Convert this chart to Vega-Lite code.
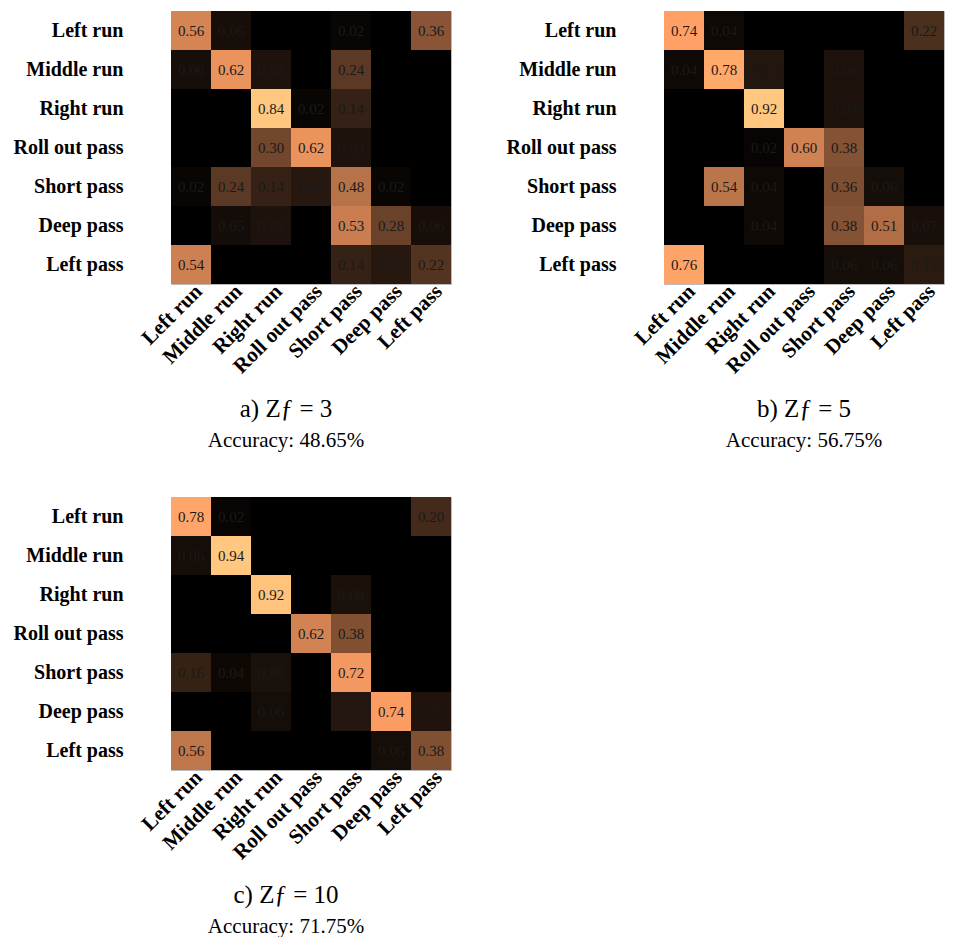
{
  "$schema": "https://vega.github.io/schema/vega-lite/v6.json",
  "background": "white",
  "padding": {"left": 12, "top": 10, "right": 5, "bottom": 5},
  "datasets": {
    "a": [
      {"actual": "Left run", "Left run": 0.56, "Middle run": 0.06, "Right run": 0, "Roll out pass": 0, "Short pass": 0.02, "Deep pass": 0, "Left pass": 0.36},
      {"actual": "Middle run", "Left run": 0.06, "Middle run": 0.62, "Right run": 0.08, "Roll out pass": 0, "Short pass": 0.24, "Deep pass": 0, "Left pass": 0},
      {"actual": "Right run", "Left run": 0, "Middle run": 0, "Right run": 0.84, "Roll out pass": 0.02, "Short pass": 0.14, "Deep pass": 0, "Left pass": 0},
      {"actual": "Roll out pass", "Left run": 0, "Middle run": 0, "Right run": 0.30, "Roll out pass": 0.62, "Short pass": 0.08, "Deep pass": 0, "Left pass": 0},
      {"actual": "Short pass", "Left run": 0.02, "Middle run": 0.24, "Right run": 0.14, "Roll out pass": 0.10, "Short pass": 0.48, "Deep pass": 0.02, "Left pass": 0},
      {"actual": "Deep pass", "Left run": 0, "Middle run": 0.05, "Right run": 0.08, "Roll out pass": 0, "Short pass": 0.53, "Deep pass": 0.28, "Left pass": 0.06},
      {"actual": "Left pass", "Left run": 0.54, "Middle run": 0, "Right run": 0, "Roll out pass": 0, "Short pass": 0.14, "Deep pass": 0.10, "Left pass": 0.22}
    ],
    "b": [
      {"actual": "Left run", "Left run": 0.74, "Middle run": 0.04, "Right run": 0, "Roll out pass": 0, "Short pass": 0, "Deep pass": 0, "Left pass": 0.22},
      {"actual": "Middle run", "Left run": 0.04, "Middle run": 0.78, "Right run": 0.10, "Roll out pass": 0, "Short pass": 0.08, "Deep pass": 0, "Left pass": 0},
      {"actual": "Right run", "Left run": 0, "Middle run": 0, "Right run": 0.92, "Roll out pass": 0, "Short pass": 0.08, "Deep pass": 0, "Left pass": 0},
      {"actual": "Roll out pass", "Left run": 0, "Middle run": 0, "Right run": 0.02, "Roll out pass": 0.60, "Short pass": 0.38, "Deep pass": 0, "Left pass": 0},
      {"actual": "Short pass", "Left run": 0, "Middle run": 0.54, "Right run": 0.04, "Roll out pass": 0, "Short pass": 0.36, "Deep pass": 0.06, "Left pass": 0},
      {"actual": "Deep pass", "Left run": 0, "Middle run": 0, "Right run": 0.04, "Roll out pass": 0, "Short pass": 0.38, "Deep pass": 0.51, "Left pass": 0.07},
      {"actual": "Left pass", "Left run": 0.76, "Middle run": 0, "Right run": 0, "Roll out pass": 0, "Short pass": 0.06, "Deep pass": 0.06, "Left pass": 0.12}
    ],
    "c": [
      {"actual": "Left run", "Left run": 0.78, "Middle run": 0.02, "Right run": 0, "Roll out pass": 0, "Short pass": 0, "Deep pass": 0, "Left pass": 0.20},
      {"actual": "Middle run", "Left run": 0.06, "Middle run": 0.94, "Right run": 0, "Roll out pass": 0, "Short pass": 0, "Deep pass": 0, "Left pass": 0},
      {"actual": "Right run", "Left run": 0, "Middle run": 0, "Right run": 0.92, "Roll out pass": 0, "Short pass": 0.08, "Deep pass": 0, "Left pass": 0},
      {"actual": "Roll out pass", "Left run": 0, "Middle run": 0, "Right run": 0, "Roll out pass": 0.62, "Short pass": 0.38, "Deep pass": 0, "Left pass": 0},
      {"actual": "Short pass", "Left run": 0.16, "Middle run": 0.04, "Right run": 0.08, "Roll out pass": 0, "Short pass": 0.72, "Deep pass": 0, "Left pass": 0},
      {"actual": "Deep pass", "Left run": 0, "Middle run": 0, "Right run": 0.06, "Roll out pass": 0, "Short pass": 0.11, "Deep pass": 0.74, "Left pass": 0.09},
      {"actual": "Left pass", "Left run": 0.56, "Middle run": 0, "Right run": 0, "Roll out pass": 0, "Short pass": 0, "Deep pass": 0.06, "Left pass": 0.38}
    ]
  },
  "spacing": 44,
  "resolve": {"scale": {"color": "independent"}},
  "vconcat": [
    {
      "spacing": 53,
      "resolve": {"scale": {"color": "independent"}},
      "hconcat": [
        {
          "data": {"name": "a"},
          "width": 280, "height": 273,
          "title": {"text": "a) Zƒ = 3", "subtitle": "Accuracy: 48.65%", "dx": -25},
          "transform": [{"fold": ["Left run", "Middle run", "Right run", "Roll out pass", "Short pass", "Deep pass", "Left pass"], "as": ["pred", "v"]}],
          "encoding": {
            "x": {"field": "pred", "type": "nominal", "sort": ["Left run", "Middle run", "Right run", "Roll out pass", "Short pass", "Deep pass", "Left pass"], "title": null},
            "y": {"field": "actual", "type": "nominal", "sort": ["Left run", "Middle run", "Right run", "Roll out pass", "Short pass", "Deep pass", "Left pass"], "title": null}
          },
          "layer": [
            {"mark": {"type": "rect"}, "encoding": {"color": {"field": "v", "type": "quantitative", "scale": {"domain": [0, 0.672, 0.84], "range": ["#000000", "#ff9f65", "#ffc77f"], "interpolate": "rgb"}, "legend": null}}},
            {"transform": [{"filter": "datum.v > 0"}], "mark": {"type": "text", "font": "Liberation Serif", "fontSize": 15, "color": "#1a1a1a"}, "encoding": {"text": {"field": "v", "type": "quantitative", "format": ".2f"}}}
          ]
        },
        {
          "data": {"name": "b"},
          "width": 280, "height": 273,
          "title": {"text": "b) Zƒ = 5", "subtitle": "Accuracy: 56.75%"},
          "transform": [{"fold": ["Left run", "Middle run", "Right run", "Roll out pass", "Short pass", "Deep pass", "Left pass"], "as": ["pred", "v"]}],
          "encoding": {
            "x": {"field": "pred", "type": "nominal", "sort": ["Left run", "Middle run", "Right run", "Roll out pass", "Short pass", "Deep pass", "Left pass"], "title": null},
            "y": {"field": "actual", "type": "nominal", "sort": ["Left run", "Middle run", "Right run", "Roll out pass", "Short pass", "Deep pass", "Left pass"], "title": null}
          },
          "layer": [
            {"mark": {"type": "rect"}, "encoding": {"color": {"field": "v", "type": "quantitative", "scale": {"domain": [0, 0.736, 0.92], "range": ["#000000", "#ff9f65", "#ffc77f"], "interpolate": "rgb"}, "legend": null}}},
            {"transform": [{"filter": "datum.v > 0"}], "mark": {"type": "text", "font": "Liberation Serif", "fontSize": 15, "color": "#1a1a1a"}, "encoding": {"text": {"field": "v", "type": "quantitative", "format": ".2f"}}}
          ]
        }
      ]
    },
    {
      "data": {"name": "c"},
      "width": 280, "height": 273,
      "title": {"text": "c) Zƒ = 10", "subtitle": "Accuracy: 71.75%", "dx": -25},
      "transform": [{"fold": ["Left run", "Middle run", "Right run", "Roll out pass", "Short pass", "Deep pass", "Left pass"], "as": ["pred", "v"]}],
      "encoding": {
        "x": {"field": "pred", "type": "nominal", "sort": ["Left run", "Middle run", "Right run", "Roll out pass", "Short pass", "Deep pass", "Left pass"], "title": null},
        "y": {"field": "actual", "type": "nominal", "sort": ["Left run", "Middle run", "Right run", "Roll out pass", "Short pass", "Deep pass", "Left pass"], "title": null}
      },
      "layer": [
        {"mark": {"type": "rect"}, "encoding": {"color": {"field": "v", "type": "quantitative", "scale": {"domain": [0, 0.752, 0.94], "range": ["#000000", "#ff9f65", "#ffc77f"], "interpolate": "rgb"}, "legend": null}}},
        {"transform": [{"filter": "datum.v > 0"}], "mark": {"type": "text", "font": "Liberation Serif", "fontSize": 15, "color": "#1a1a1a"}, "encoding": {"text": {"field": "v", "type": "quantitative", "format": ".2f"}}}
      ]
    }
  ],
  "config": {
    "view": {"stroke": "#bbbbbb", "strokeWidth": 1},
    "axis": {"labelFont": "Liberation Serif", "labelFontWeight": "bold", "labelFontSize": 20, "labelColor": "#000000", "ticks": false, "domain": false, "grid": false},
    "axisX": {"labelAngle": -45, "labelAlign": "right", "labelBaseline": "middle", "labelPadding": 4, "labelOffset": 8, "labelFontSize": 21},
    "axisY": {"labelPadding": 48},
    "title": {"orient": "bottom", "anchor": "middle", "frame": "group", "font": "Liberation Serif", "fontSize": 25, "fontWeight": "normal", "color": "#000000", "subtitleFont": "Liberation Serif", "subtitleFontSize": 21, "subtitleColor": "#000000", "subtitlePadding": 8, "offset": 20}
  }
}
